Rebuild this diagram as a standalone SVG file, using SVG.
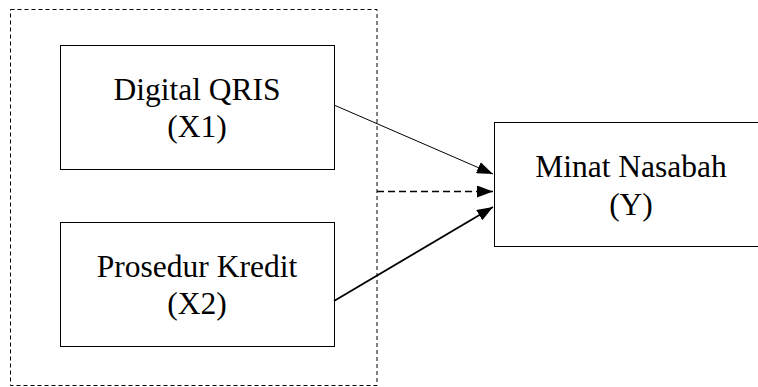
<svg xmlns="http://www.w3.org/2000/svg" width="758" height="387" viewBox="0 0 758 387">
<style>
.box{fill:#fff;stroke:#000;stroke-width:1}
.t{font-family:"Liberation Serif","Times New Roman",serif;font-size:31.5px;fill:#000;text-anchor:middle}
.c{fill:none;stroke:#000}
</style>
<defs>
<marker id="ah" markerWidth="16" markerHeight="12" refX="16" refY="6" orient="auto" markerUnits="userSpaceOnUse">
<path d="M0,0 L16,6 L0,12 Z" fill="#000"/>
</marker>
</defs>
<rect width="758" height="387" fill="#fff"/>
<g id="outer">
<rect x="10.5" y="9.5" width="366.5" height="376" fill="none" stroke="#000" stroke-width="1" stroke-dasharray="4,3"/>
</g>
<g id="x1">
<rect class="box" x="60.5" y="45.5" width="274" height="124"/>
<text class="t" x="197" y="100">Digital QRIS</text>
<text class="t" x="197" y="137">(X1)</text>
</g>
<g id="x2">
<rect class="box" x="60.5" y="222.5" width="274" height="124"/>
<text class="t" x="197" y="277">Prosedur Kredit</text>
<text class="t" x="197" y="314">(X2)</text>
</g>
<g id="y">
<rect class="box" x="494.5" y="122.5" width="280" height="124"/>
<text class="t" x="631" y="177">Minat Nasabah</text>
<text class="t" x="631" y="215">(Y)</text>
</g>
<g id="connectors">
<line class="c" x1="334" y1="105" x2="493" y2="174" stroke-width="1" marker-end="url(#ah)"/>
<line class="c" x1="377" y1="191.5" x2="493" y2="191.5" stroke-width="1.3" stroke-dasharray="7,4" marker-end="url(#ah)"/>
<line class="c" x1="334" y1="301" x2="493" y2="207" stroke-width="1.8" marker-end="url(#ah)"/>
</g>
</svg>
